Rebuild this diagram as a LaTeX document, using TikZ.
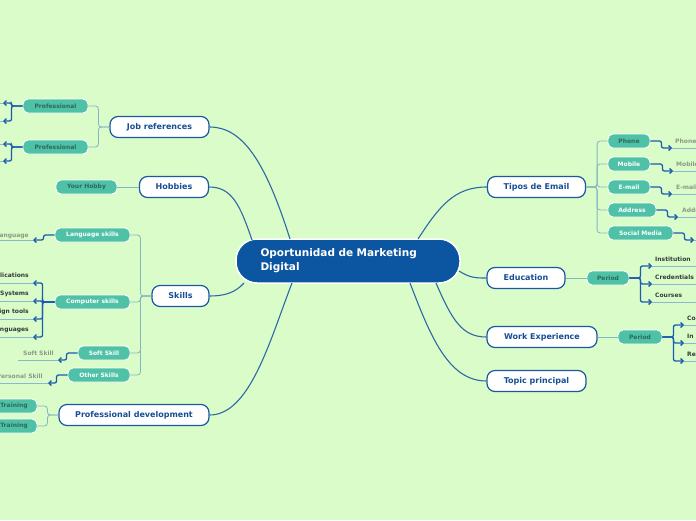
\documentclass[tikz,border=0pt]{standalone}
\usepackage{fontspec}
\setmainfont{DejaVu Sans}
\usetikzlibrary{arrows.meta}
\definecolor{bgc}{HTML}{DAFCC8}
\definecolor{centc}{HTML}{0C56A1}
\definecolor{mainb}{HTML}{1A58A3}
\definecolor{maintxt}{HTML}{164E96}
\definecolor{tealc}{HTML}{4EC1A6}
\definecolor{subdark}{HTML}{2C6A5E}
\definecolor{connc}{HTML}{2F68A6}
\definecolor{sublc}{HTML}{86B6C4}
\definecolor{leafc}{HTML}{1B5CAE}
\definecolor{ulc}{HTML}{8DB7CF}
\definecolor{leafdark}{HTML}{333C3C}
\definecolor{leafgray}{HTML}{8A9A86}
\tikzset{
  central/.style={draw=white, line width=1.5pt, fill=centc, rounded corners=21pt,
    minimum height=44pt, text width=175pt, inner xsep=24.5pt, inner ysep=0pt, align=left,
    text=white, font=\bfseries\fontsize{10.5}{14}\selectfont},
  topic/.style={draw=mainb, line width=1.2pt, fill=white, rounded corners=8pt,
    minimum height=21pt, inner sep=0pt, text=maintxt, font=\bfseries\fontsize{8}{9}\selectfont},
  subn/.style={draw=white, line width=0.9pt, fill=tealc, rounded corners=5pt,
    minimum height=14pt, inner sep=0pt, text=white, font=\bfseries\fontsize{6}{7}\selectfont},
  subd/.style={subn, text=subdark},
  leaft/.style={inner sep=0pt, text=leafdark, font=\bfseries\fontsize{6}{7}\selectfont},
  leafg/.style={leaft, text=leafgray},
  conn/.style={draw=connc, line width=1.1pt},
  subline/.style={draw=sublc, line width=0.8pt, rounded corners=3pt},
  leafline/.style={draw=leafc, line width=1.3pt, rounded corners=2pt,
    -{Straight Barb[length=2.5pt,width=5pt]}},
  uline/.style={draw=ulc, line width=0.8pt},
}
\begin{document}
\begin{tikzpicture}[x=1pt,y=-1pt]
\clip (0,0) rectangle (696,520);
\fill[bgc] (0,0) rectangle (696,520);

% central
\node[central] (c) at (348,261) {Oportunidad de Marketing\\Digital};

% topics
\node[topic, minimum width=99pt] (job) at (159.5,127) {Job references};
\node[topic, minimum width=69pt] (hob) at (174,187) {Hobbies};
\node[topic, minimum width=57pt] (ski) at (180.5,296) {Skills};
\node[topic, minimum width=150pt] (pro) at (134,415) {Professional development};
\node[topic, minimum width=98pt] (tip) at (536.5,187) {Tipos de Email};
\node[topic, minimum width=78pt] (edu) at (526,278) {Education};
\node[topic, minimum width=110pt] (wor) at (542,337) {Work Experience};
\node[topic, minimum width=99pt] (top) at (536.5,381) {Topic principal};

% main connectors
\draw[conn] (290,239) .. controls (265,160) and (242,127) .. (job.east);
\draw[conn] (252,240) .. controls (240,205) and (232,187) .. (hob.east);
\draw[conn] (244,283) .. controls (235,293) and (224,296) .. (ski.east);
\draw[conn] (292,283) .. controls (270,340) and (250,415) .. (pro.east);
\draw[conn] (418,239) .. controls (440,205) and (455,187) .. (tip.west);
\draw[conn] (459,271) .. controls (470,278) and (476,278) .. (edu.west);
\draw[conn] (436,283) .. controls (452,320) and (462,337) .. (wor.west);
\draw[conn] (410,283) .. controls (430,335) and (448,381) .. (top.west);

% sub nodes left
\node[subd, minimum width=65pt] (p1) at (55.5,106) {Professional};
\node[subd, minimum width=65pt] (p2) at (55.5,147) {Professional};
\node[subd, minimum width=61pt] (yh) at (86.5,187) {Your Hobby};
\node[subn, minimum width=75pt] (ls) at (92.5,235) {Language skills};
\node[subn, minimum width=75pt] (cs) at (92.5,302) {Computer skills};
\node[subn, minimum width=52pt] (ss) at (104,353) {Soft Skill};
\node[subn, minimum width=62pt] (os) at (99,375) {Other Skills};
\node[subd, minimum width=46pt] (t1) at (14,406) {Training};
\node[subd, minimum width=46pt] (t2) at (14,426) {Training};

% sub nodes right
\node[subd, minimum width=42pt] (ph) at (629,141) {Phone};
\node[subn, minimum width=42pt] (mo) at (629,164) {Mobile};
\node[subn, minimum width=42pt] (em) at (629,187) {E-mail};
\node[subn, minimum width=48pt] (ad) at (632,210) {Address};
\node[subn, minimum width=65pt] (sm) at (640.5,233) {Social Media};
\node[subd, minimum width=42pt] (pe1) at (608,278) {Period};
\node[subd, minimum width=44pt] (pe2) at (640,337) {Period};

% topic -> sub connectors
\draw[subline] (job.west) -- ++(-11,0) |- (p1.east);
\draw[subline] (job.west) -- ++(-11,0) |- (p2.east);
\draw[subline] (hob.west) -- (yh.east);
\draw[subline] (ski.west) -- ++(-11,0) |- (ls.east);
\draw[subline] (ski.west) -- ++(-11,0) |- (cs.east);
\draw[subline] (ski.west) -- ++(-11,0) |- (ss.east);
\draw[subline] (ski.west) -- ++(-11,0) |- (os.east);
\draw[subline] (pro.west) -- ++(-11,0) |- (t1.east);
\draw[subline] (pro.west) -- ++(-11,0) |- (t2.east);
\draw[subline] (tip.east) -- ++(11,0) |- (ph.west);
\draw[subline] (tip.east) -- ++(11,0) |- (mo.west);
\draw[subline] (tip.east) -- ++(11,0) |- (em.west);
\draw[subline] (tip.east) -- ++(11,0) |- (ad.west);
\draw[subline] (tip.east) -- ++(11,0) |- (sm.west);
\draw[subline] (edu.east) -- (pe1.west);
\draw[subline] (wor.east) -- (pe2.west);

% ---- leaves: Professional
\coordinate (p1a) at (3,103);
\coordinate (p1b) at (3,121);
\coordinate (p2a) at (3,144);
\coordinate (p2b) at (3,161);
\draw[uline] (p1a) -- ++(-20,0);
\draw[uline] (p1b) -- ++(-20,0);
\draw[uline] (p2a) -- ++(-20,0);
\draw[uline] (p2b) -- ++(-20,0);
\draw[leafline] (p1.west) -- ++(-11,0) |- (p1a);
\draw[leafline] (p1.west) -- ++(-11,0) |- (p1b);
\draw[leafline] (p2.west) -- ++(-11,0) |- (p2a);
\draw[leafline] (p2.west) -- ++(-11,0) |- (p2b);

% ---- Language skills
\coordinate (lsa) at (33,240);
\draw[uline] (lsa) -- ++(-40,0);
\draw[leafline] (ls.west) -- ++(-11,0) |- (lsa);
\node[leafg, anchor=base east] (lsl) at (29,237) {anguage};

% ---- Computer skills
\coordinate (cs1) at (33,283);
\coordinate (cs2) at (33,301);
\coordinate (cs3) at (33,319);
\coordinate (cs4) at (33,337);
\draw[uline] (cs1) -- ++(-40,0);
\draw[uline] (cs2) -- ++(-40,0);
\draw[uline] (cs3) -- ++(-40,0);
\draw[uline] (cs4) -- ++(-40,0);
\draw[leafline] (cs.west) -- ++(-12,0) |- (cs1);
\draw[leafline] (cs.west) -- ++(-12,0) |- (cs2);
\draw[leafline] (cs.west) -- ++(-12,0) |- (cs3);
\draw[leafline] (cs.west) -- ++(-12,0) |- (cs4);
\node[leaft, anchor=base east] (csl1) at (29,277.5) {lications};
\node[leaft, anchor=base east] (csl2) at (29,295.5) {Systems};
\node[leaft, anchor=base east] (csl3) at (29,313.5) {ign tools};
\node[leaft, anchor=base east] (csl4) at (29,331.5) {anguages};

% ---- Soft skill
\coordinate (ssa) at (58,360);
\draw[uline] (ssa) -- (18,360);
\draw[leafline] (ss.west) -- ++(-11,0) |- (ssa);
\node[leafg, anchor=base west] (ssl) at (23,355) {Soft Skill};

% ---- Other skills
\coordinate (osa) at (48,383);
\draw[uline] (osa) -- ++(-55,0);
\draw[leafline] (os.west) -- ++(-11,0) |- (osa);
\node[leafg, anchor=base east] (osl) at (43,378) {Personal Skill};

% ---- Tipos de Email leaves
\coordinate (pha) at (672,148);
\coordinate (moa) at (673,171);
\coordinate (ema) at (672,194);
\coordinate (ada) at (678,217);
\coordinate (sma) at (694,240);
\draw[uline] (pha) -- ++(30,0);
\draw[uline] (moa) -- ++(30,0);
\draw[uline] (ema) -- ++(30,0);
\draw[uline] (ada) -- ++(30,0);
\draw[uline] (sma) -- ++(30,0);
\draw[leafline] (ph.east) -- ++(11,0) |- (pha);
\draw[leafline] (mo.east) -- ++(12,0) |- (moa);
\draw[leafline] (em.east) -- ++(11,0) |- (ema);
\draw[leafline] (ad.east) -- ++(11,0) |- (ada);
\draw[leafline] (sm.east) -- ++(11,0) |- (sma);
\node[leafg, anchor=base west] (phl) at (675,143.5) {Phone};
\node[leafg, anchor=base west] (mol) at (676,166.5) {Mobile};
\node[leafg, anchor=base west] (eml) at (676,189.5) {E-mail};
\node[leafg, anchor=base west] (adl) at (682,212.5) {Address};

% ---- Education period leaves
\coordinate (ea) at (652,266);
\coordinate (eb) at (652,284);
\coordinate (ec) at (652,302);
\draw[uline] (ea) -- ++(50,0);
\draw[uline] (eb) -- ++(50,0);
\draw[uline] (ec) -- ++(50,0);
\draw[leafline] (pe1.east) -- ++(11,0) |- (ea);
\draw[leafline] (pe1.east) -- ++(11,0) |- (eb);
\draw[leafline] (pe1.east) -- ++(11,0) |- (ec);
\node[leaft, anchor=base west] (eal) at (655,261.5) {Institution};
\node[leaft, anchor=base west] (ebl) at (655,279.5) {Credentials};
\node[leaft, anchor=base west] (ecl) at (655,297.5) {Courses};

% ---- Work period leaves
\coordinate (wa) at (684,325);
\coordinate (wb) at (684,343);
\coordinate (wc) at (684,361);
\draw[uline] (wa) -- ++(30,0);
\draw[uline] (wb) -- ++(30,0);
\draw[uline] (wc) -- ++(30,0);
\draw[leafline] (pe2.east) -- ++(11,0) |- (wa);
\draw[leafline] (pe2.east) -- ++(11,0) |- (wb);
\draw[leafline] (pe2.east) -- ++(11,0) |- (wc);
\node[leaft, anchor=base west] (wal) at (687,320.5) {Co};
\node[leaft, anchor=base west] (wbl) at (687,338.5) {In};
\node[leaft, anchor=base west] (wcl) at (687,356.5) {Re};
\end{tikzpicture}
\end{document}
